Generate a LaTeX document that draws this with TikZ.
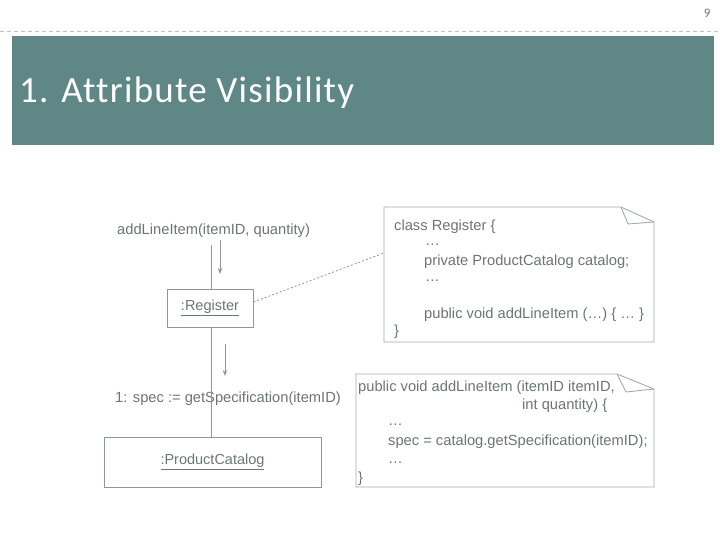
\documentclass[tikz,border=0pt]{standalone}
\usepackage{fontspec}
\setmainfont{Liberation Sans}
\newfontfamily\titlefont[LetterSpace=3.4,Ligatures=NoCommon]{Carlito}
\newfontfamily\pagefont{Carlito}
\usetikzlibrary{arrows.meta}
\definecolor{band}{HTML}{5F8785}
\definecolor{ink}{HTML}{6C7474}
\definecolor{edge}{HTML}{8E9696}
\definecolor{rule}{HTML}{B4C4C4}
\tikzset{
  obj/.style={draw=edge,line width=1pt,text=ink,inner sep=0pt,font=\fontsize{14.5}{17}\selectfont},
  note/.style={draw=edge!80,line width=0.9pt},
  code/.style={anchor=base west,text=ink,inner sep=0pt,font=\fontsize{14.7}{17}\selectfont},
  msg/.style={draw=edge,line width=1pt,-{Stealth[length=6pt,width=4.5pt]}},
  link/.style={draw=edge,line width=1pt}
}
\begin{document}
\begin{tikzpicture}[x=1pt,y=-1pt]
        \useasboundingbox (0,0) rectangle (720,540);
        \node[anchor=base east,text=ink,font=\pagefont\fontsize{13}{15}\selectfont] (pg) at (714,18) {9};
        \draw[rule,dashed,dash pattern=on 4pt off 3pt] (0,31) -- (720,31);
        \fill[band] (12,36) rectangle (714,145);
        \node[anchor=base west,text=white,inner sep=0pt,font=\titlefont\fontsize{37}{42}\selectfont] (title) at (19,103) {1. Attribute Visibility};

        \node[code] (callA) at (117,234) {addLineItem(itemID, quantity)};
        \node[code] (callB) at (115,402) {1: spec := getSpecification(itemID)};
        \node[obj,minimum width=86pt,minimum height=38pt] (reg) at (210,308) {\underline{:Register}};
        \node[obj,minimum width=217pt,minimum height=50pt] (cat) at (212.5,462) {\underline{:ProductCatalog}};
        \coordinate (top) at (211,245);
        \draw[link] (top) -- (reg.north -| top);
        \draw[link] (reg.south -| top) -- (cat.north -| top);
        \coordinate (a1s) at (220,240);
        \coordinate (a1e) at (220,274);
        \draw[msg] (a1s) -- (a1e);
        \coordinate (a2s) at (225,344);
        \coordinate (a2e) at (225,376);
        \draw[msg] (a2s) -- (a2e);

        % notes
        \draw[note] (384,207) -- (621,207) -- (654,222) -- (654,342) -- (384,342) -- cycle;
        \draw[note] (621,207) -- (628,224) -- (654,222);
        \draw[note] (356,374) -- (617,374) -- (654,389) -- (654,487) -- (356,487) -- cycle;
        \draw[note] (617,374) -- (626,392) -- (654,389);
        \coordinate (n1) at (384,253);
        \draw[link,line width=0.8pt,dash pattern=on 2pt off 2pt] ([yshift=6pt]reg.east) -- (n1);

        \node[code] (r1) at (394,230) {class Register \{};
        \node[code] (r2) at (425,245) {…};
        \node[code] (r3) at (424,265) {private ProductCatalog catalog;};
        \node[code] (r4) at (425,281) {…};
        \node[code] (r5) at (424,318) {public void addLineItem (…) \{ … \}};
        \node[code] (r6) at (394,335) {\}};

        \node[code] (s1) at (358,391) {public void addLineItem (itemID itemID,};
        \node[code] (s2) at (522,409) {int quantity) \{};
        \node[code] (s3) at (388,425) {…};
        \node[code] (s4) at (388,445) {spec = catalog.getSpecification(itemID);};
        \node[code] (s5) at (388,463) {…};
        \node[code] (s6) at (358,482) {\}};
\end{tikzpicture}
\end{document}
